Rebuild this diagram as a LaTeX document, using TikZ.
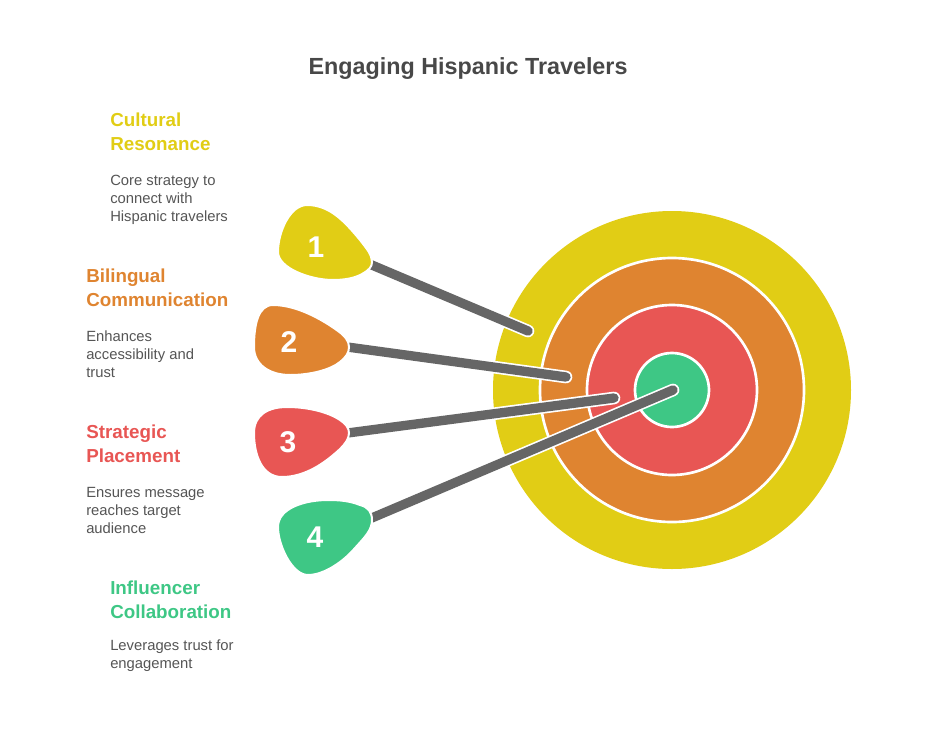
\documentclass[tikz,border=0pt]{standalone}
\usepackage{fontspec}
\setmainfont{Liberation Sans}
\definecolor{ringyellow}{HTML}{E1CD15}
\definecolor{ringorange}{HTML}{DF8430}
\definecolor{ringred}{HTML}{E85654}
\definecolor{ringgreen}{HTML}{3EC785}
\definecolor{titlegray}{HTML}{484848}
\definecolor{bodygray}{HTML}{555555}
\definecolor{bargray}{HTML}{666666}
\tikzset{
    ring/.style={draw=white,line width=2pt},
    blob/.style={draw=white,line width=1.5pt},
    bar/.style={draw=bargray,line width=7pt,line cap=round,preaction={draw=white,line width=9.5pt,line cap=round}},
    num/.style={text=white,font=\fontsize{22.5}{24}\selectfont\bfseries},
    head/.style={anchor=north west,inner sep=0pt,align=left,font=\fontsize{14.1}{18}\selectfont\bfseries},
    body/.style={anchor=north west,inner sep=0pt,align=left,text=bodygray,font=\fontsize{11.1}{13.5}\selectfont}
}
\begin{document}
\begin{tikzpicture}[x=.75pt,y=-.75pt]

    \useasboundingbox (0,0) rectangle (936,750);

    \def\firstring{(672,390) circle (179)}
    \def\secondring{(672,390) circle (132)}
    \def\thirdring{(672,390) circle (85)}
    \def\fourthring{(672,390) circle (37)}

    %draw rings:
    \fill[ringyellow] \firstring;
    \draw[ring,fill=ringorange] \secondring;
    \draw[ring,fill=ringred] \thirdring;
    \draw[ring,fill=ringgreen] \fourthring;

    %bar ends:
    \coordinate (start1) at (360,260);
    \coordinate (start2) at (340,346);
    \coordinate (start3) at (340,434);
    \coordinate (start4) at (360,523);
    \coordinate (end1) at (528,331);
    \coordinate (end2) at (566,377);
    \coordinate (end3) at (614,398);
    \coordinate (end4) at (673,390);

    %draw bars:
    \draw[bar] (start1) -- (end1);
    \draw[bar] (start2) -- (end2);
    \draw[bar] (start3) -- (end3);
    \draw[bar] (start4) -- (end4);

    %draw blobs:
    \draw[blob,fill=ringyellow] (372,262) .. controls (372,255) and (367,249) .. (360,240)
        .. controls (345,222) and (330,205) .. (307,205)
        .. controls (290,205) and (278,232) .. (278,252)
        .. controls (278,268) and (310,280) .. (333,280)
        .. controls (345,280) and (355,278) .. (362,274)
        .. controls (369,270) and (372,267) .. (372,262) -- cycle;
    \draw[blob,fill=ringorange] (349,347) .. controls (349,341) and (345,336) .. (338,331)
        .. controls (323,320) and (297,305) .. (273,305)
        .. controls (258,305) and (254,325) .. (254,347)
        .. controls (254,365) and (270,375) .. (290,375)
        .. controls (310,375) and (330,370) .. (340,362)
        .. controls (346,357) and (349,353) .. (349,347) -- cycle;
    \draw[blob,fill=ringred] (349,433) .. controls (349,439) and (345,444) .. (340,449)
        .. controls (325,463) and (305,477) .. (282,477)
        .. controls (262,477) and (254,455) .. (254,433)
        .. controls (254,415) and (268,407) .. (287,407)
        .. controls (308,407) and (328,412) .. (340,420)
        .. controls (346,424) and (349,428) .. (349,433) -- cycle;
    \draw[blob,fill=ringgreen] (372,520) .. controls (372,512) and (368,507) .. (360,505)
        .. controls (350,501) and (340,500) .. (328,500)
        .. controls (305,500) and (278,508) .. (278,527)
        .. controls (278,545) and (292,575) .. (308,575)
        .. controls (325,575) and (345,560) .. (355,548)
        .. controls (365,537) and (372,530) .. (372,520) -- cycle;

    %numbers:
    \node[num] (num1) at (316,247) {1};
    \node[num] (num2) at (289,342) {2};
    \node[num] (num3) at (288,442) {3};
    \node[num] (num4) at (315,537) {4};

    %draw text:
    \node[text=titlegray,font=\fontsize{17.5}{22}\selectfont\bfseries] (title) at (468,69) {Engaging Hispanic Travelers};

    \node[head,text=ringyellow] (head1) at (110,113) {Cultural\\Resonance};
    \node[body] (body1) at (110,175) {Core strategy to\\connect with\\Hispanic travelers};

    \node[head,text=ringorange] (head2) at (86,269) {Bilingual\\Communication};
    \node[body] (body2) at (86,331) {Enhances\\accessibility and\\trust};

    \node[head,text=ringred] (head3) at (86,425) {Strategic\\Placement};
    \node[body] (body3) at (86,487) {Ensures message\\reaches target\\audience};

    \node[head,text=ringgreen] (head4) at (110,581) {Influencer\\Collaboration};
    \node[body] (body4) at (110,640) {Leverages trust for\\engagement};

\end{tikzpicture}
\end{document}
